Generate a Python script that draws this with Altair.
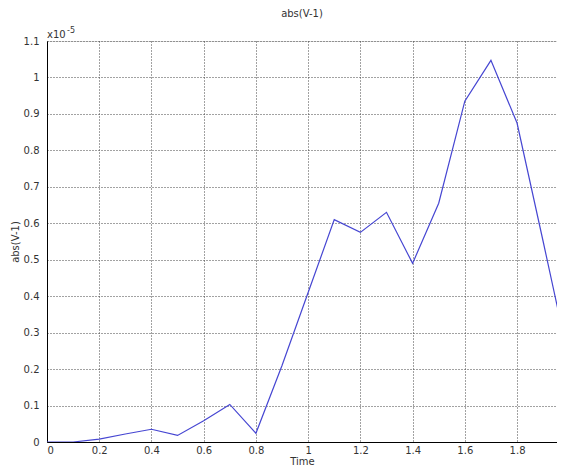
import altair as alt
import pandas as pd

time = [0.0, 0.1, 0.2, 0.3, 0.4, 0.5, 0.6, 0.7, 0.8, 0.9, 1.0,
        1.1, 1.2, 1.3, 1.4, 1.5, 1.6, 1.7, 1.8, 1.9, 2.0]
value = [0.0, 0.0, 0.008, 0.022, 0.035, 0.018, 0.058, 0.103, 0.024, 0.21, 0.41,
         0.61, 0.575, 0.63, 0.49, 0.655, 0.935, 1.047, 0.875, 0.55, 0.22]
x_ticks = [0, 0.2, 0.4, 0.6, 0.8, 1.0, 1.2, 1.4, 1.6, 1.8]
y_ticks = [0, 0.1, 0.2, 0.3, 0.4, 0.5, 0.6, 0.7, 0.8, 0.9, 1.0, 1.1]
x_max = 1.953

df = pd.DataFrame({"Time": time, "abs": value})

FONT = "DejaVu Sans"

base = alt.Chart(df)

line = base.mark_line(color="#4646d2", strokeWidth=1.2, clip=True).encode(
    x=alt.X("Time:Q",
            scale=alt.Scale(domain=[0, x_max], nice=False, zero=False),
            axis=alt.Axis(values=x_ticks, format=".1~f", title="Time",
                          grid=True, gridColor="#444", gridDash=[1, 2], gridWidth=1,
                          domainColor="#000", ticks=False, labelPadding=3,
                          labelFont=FONT, labelFontSize=10, labelColor="#333",
                          titleFont=FONT, titleFontSize=10, titleFontWeight="normal",
                          titleColor="#333", titlePadding=1)),
    y=alt.Y("abs:Q",
            scale=alt.Scale(domain=[0, 1.1], nice=False),
            axis=alt.Axis(values=y_ticks, format=".1~f", title="abs(V-1)",
                          grid=True, gridColor="#444", gridDash=[1, 2], gridWidth=1,
                          domainColor="#000", ticks=False, labelPadding=8,
                          labelFont=FONT, labelFontSize=10, labelColor="#333",
                          titleFont=FONT, titleFontSize=10, titleFontWeight="normal",
                          titleColor="#333", titlePadding=3)),
)

exp_base = alt.Chart(pd.DataFrame({"t": ["x10"]})).mark_text(
    font=FONT, fontSize=10, color="#333", align="left", baseline="bottom"
).encode(text="t:N", x=alt.value(0), y=alt.value(-1))

exp_sup = alt.Chart(pd.DataFrame({"t": ["-5"]})).mark_text(
    font=FONT, fontSize=8, color="#333", align="left", baseline="bottom"
).encode(text="t:N", x=alt.value(20), y=alt.value(-6))

chart = alt.layer(line, exp_base, exp_sup).properties(
    width=510, height=401,
    title=alt.Title("abs(V-1)", font=FONT, fontSize=10, fontWeight="normal",
                    color="#333", anchor="middle", offset=8),
    autosize=alt.AutoSizeParams(type="none"),
    padding={"left": 39, "top": 33, "right": 0, "bottom": 24},
).configure_view(stroke="#000", strokeWidth=1).configure(background="white")

chart.save("out.html", embed_options={"renderer": "svg", "actions": False})
